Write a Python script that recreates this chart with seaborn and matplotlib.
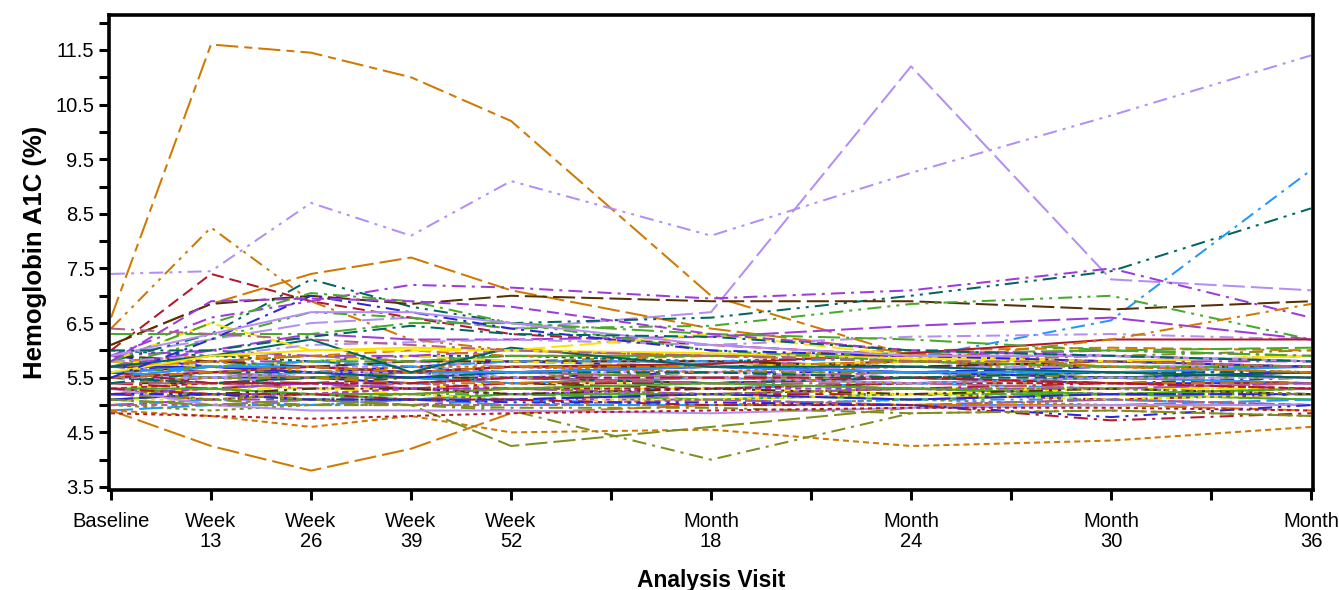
import matplotlib
matplotlib.use("Agg")
import matplotlib.pyplot as plt
import pandas as pd
import seaborn as sns

# visits (months since baseline) and axis labels
visit_months = [0, 3, 6, 9, 12, 18, 24, 30, 36]
tick_months = [0, 3, 6, 9, 12, 15, 18, 21, 24, 27, 30, 33, 36]
tick_labels = ["Baseline", "Week\n13", "Week\n26", "Week\n39", "Week\n52", "",
               "Month\n18", "", "Month\n24", "", "Month\n30", "", "Month\n36"]
y_ticks = [3.5, 4.0, 4.5, 5.0, 5.5, 6.0, 6.5, 7.0, 7.5, 8.0, 8.5, 9.0, 9.5,
           10.0, 10.5, 11.0, 11.5, 12.0]
y_tick_labels = ["3.5", "", "4.5", "", "5.5", "", "6.5", "", "7.5", "", "8.5", "",
                 "9.5", "", "10.5", "", "11.5", ""]

# subjects that move above the main band
high_subjects = [
    [6.6, 11.6, 11.45, 11.0, 10.2, 7.0, 5.9, 5.8, 5.7],
    [5.9, 6.2, 6.5, 6.6, 6.4, 6.7, 11.2, 7.3, 7.1],
    [7.4, 7.45, 8.7, 8.1, 9.1, 8.1, 9.25, 10.3, 11.4],
    [6.4, 8.25, 6.9, 6.2, 6.0, 5.9, 5.8, 5.8, 5.9],
    [6.1, 6.85, 7.4, 7.7, 7.1, 6.4, 5.95, 5.7, 5.6],
    [6.0, 7.4, 6.9, 6.6, 6.3, 6.1, 5.9, 5.9, 5.8],
    [5.8, 6.3, 7.3, 6.8, 6.5, 6.6, 7.0, 7.45, 8.6],
    [5.6, 5.7, 5.8, 5.7, 5.8, 5.8, 5.85, 6.55, 9.3],
    [5.9, 6.6, 6.9, 7.2, 7.15, 6.95, 7.1, 7.5, 6.6],
    [6.1, 6.85, 7.0, 6.85, 7.0, 6.9, 6.9, 6.75, 6.9],
    [5.7, 6.2, 6.7, 6.6, 6.4, 6.45, 6.85, 7.0, 6.2],
    [5.7, 6.0, 6.3, 6.2, 6.2, 6.25, 6.45, 6.6, 6.2],
    [5.8, 5.9, 6.1, 6.15, 6.2, 6.1, 6.25, 6.3, 6.2],
    [5.5, 5.6, 5.7, 5.6, 5.7, 5.75, 5.95, 6.2, 6.2],
    [5.5, 5.6, 5.7, 5.6, 5.7, 5.7, 5.8, 6.2, 6.85],
    [5.7, 5.9, 6.2, 5.6, 6.05, 5.7, 5.7, 5.6, 5.5],
    [5.8, 6.5, 6.0, 6.0, 6.0, 6.3, 5.9, 5.8, 5.9],
    [5.6, 5.9, 6.0, 6.05, 6.0, 5.95, 5.85, 5.8, 5.9],
    [6.3, 6.3, 6.3, 6.5, 6.5, 6.3, 6.2, 6.0, 5.9],
    [5.8, 6.5, 7.05, 6.9, 6.5, 6.0, 5.8, 5.7, 5.7],
    [5.5, 6.2, 7.0, 6.7, 6.4, 6.0, 5.9, 5.8, 5.7],
    [5.8, 6.9, 6.95, 6.9, 6.8, 6.3, 6.0, 5.9, 5.8],
    [5.9, 6.3, 6.7, 6.7, 6.5, 6.1, 5.9, 5.9, 5.8],
    [6.4, 6.3, 6.2, 6.1, 6.0, 5.9, 5.8, 5.8, 5.7],
    [6.0, 6.0, 6.25, 6.45, 6.3, 6.25, 6.0, 5.9, 5.8],
]

# subjects that dip below the main band
low_subjects = [
    [4.9, 4.8, 4.6, 4.8, 4.5, 4.55, 4.25, 4.35, 4.6],
    [4.9, 4.25, 3.8, 4.2, 4.85, 5.0, 5.0, 5.0, 4.9],
    [5.3, 5.2, 5.1, 5.0, 4.25, 4.6, 4.95, 5.0, 5.0],
    [5.2, 5.1, 5.0, 5.0, 4.9, 4.0, 4.85, 4.9, 4.8],
    [5.3, 5.0, 4.9, 4.9, 4.9, 4.85, 4.95, 5.0, 5.0],
    [5.3, 5.2, 5.2, 5.1, 5.1, 5.0, 5.0, 4.72, 4.85],
    [5.2, 5.2, 5.1, 5.1, 5.05, 5.05, 5.0, 4.78, 5.0],
    [5.1, 5.0, 5.0, 5.0, 4.95, 4.95, 4.85, 4.9, 4.8],
    [4.85, 4.8, 4.75, 4.8, 4.85, 4.9, 4.95, 4.95, 4.9],
]

# the dense band of stable subjects
band_subjects = [
    [5.6, 5.5, 5.5, 5.4, 5.5, 5.4, 5.5, 5.4, 5.4],
    [5.2, 5.3, 5.2, 5.3, 5.2, 5.2, 5.3, 5.2, 5.3],
    [5.8, 5.7, 5.8, 5.7, 5.6, 5.7, 5.6, 5.6, 5.5],
    [5.4, 5.4, 5.5, 5.5, 5.4, 5.3, 5.4, 5.5, 5.4],
    [5.0, 5.1, 5.1, 5.0, 5.1, 5.1, 5.0, 5.1, 5.0],
    [5.9, 5.8, 5.9, 5.8, 5.9, 5.9, 5.8, 5.9, 6.0],
    [5.3, 5.2, 5.3, 5.4, 5.3, 5.3, 5.4, 5.3, 5.2],
    [5.5, 5.6, 5.5, 5.6, 5.6, 5.5, 5.6, 5.5, 5.6],
    [5.7, 5.6, 5.7, 5.6, 5.7, 5.6, 5.7, 5.7, 5.6],
    [5.1, 5.2, 5.2, 5.1, 5.2, 5.2, 5.1, 5.2, 5.1],
    [5.6, 5.8, 5.7, 5.7, 5.6, 5.6, 5.5, 5.6, 5.5],
    [5.3, 5.4, 5.3, 5.3, 5.4, 5.4, 5.3, 5.3, 5.3],
    [5.9, 5.7, 5.6, 5.7, 5.8, 5.7, 5.6, 5.7, 5.7],
    [5.2, 5.1, 5.2, 5.2, 5.1, 5.2, 5.2, 5.1, 5.2],
    [5.5, 5.4, 5.4, 5.5, 5.5, 5.6, 5.5, 5.4, 5.5],
    [5.4, 5.5, 5.6, 5.5, 5.5, 5.4, 5.5, 5.6, 5.5],
    [5.7, 5.8, 5.8, 5.9, 5.8, 5.8, 5.7, 5.8, 5.8],
    [5.0, 4.9, 5.0, 5.0, 5.0, 5.0, 5.1, 5.0, 5.0],
    [5.6, 5.5, 5.6, 5.5, 5.4, 5.5, 5.4, 5.5, 5.4],
    [5.3, 5.3, 5.4, 5.4, 5.3, 5.4, 5.5, 5.4, 5.3],
    [5.8, 5.9, 5.9, 5.8, 5.8, 5.9, 5.9, 5.8, 5.9],
    [5.1, 5.0, 5.1, 5.1, 5.2, 5.1, 5.2, 5.2, 5.1],
    [5.5, 5.5, 5.4, 5.4, 5.5, 5.5, 5.6, 5.5, 5.5],
    [5.2, 5.3, 5.3, 5.2, 5.3, 5.3, 5.2, 5.3, 5.3],
    [5.7, 5.6, 5.6, 5.6, 5.5, 5.6, 5.6, 5.6, 5.6],
    [5.4, 5.3, 5.4, 5.3, 5.4, 5.4, 5.3, 5.4, 5.4],
    [6.0, 5.9, 5.8, 5.9, 5.9, 5.8, 5.9, 5.9, 5.8],
    [5.6, 5.7, 5.7, 5.6, 5.7, 5.7, 5.8, 5.7, 5.7],
    [5.3, 5.2, 5.2, 5.3, 5.2, 5.3, 5.3, 5.2, 5.2],
    [5.5, 5.6, 5.5, 5.5, 5.6, 5.5, 5.5, 5.6, 5.5],
    [4.9, 5.0, 5.0, 5.1, 5.0, 5.0, 5.0, 5.0, 5.1],
    [5.8, 5.6, 5.5, 5.6, 5.6, 5.5, 5.6, 5.5, 5.6],
    [5.4, 5.5, 5.5, 5.4, 5.4, 5.5, 5.4, 5.4, 5.4],
    [5.2, 5.2, 5.1, 5.2, 5.2, 5.1, 5.2, 5.2, 5.2],
    [5.6, 5.6, 5.7, 5.8, 5.7, 5.6, 5.7, 5.7, 5.7],
    [5.1, 5.1, 5.2, 5.2, 5.1, 5.1, 5.2, 5.1, 5.2],
    [5.7, 5.7, 5.6, 5.5, 5.6, 5.7, 5.6, 5.5, 5.6],
    [5.3, 5.4, 5.4, 5.3, 5.3, 5.3, 5.4, 5.4, 5.3],
    [5.5, 5.4, 5.5, 5.6, 5.5, 5.4, 5.5, 5.5, 5.6],
    [5.9, 5.8, 5.7, 5.8, 5.8, 5.8, 5.7, 5.8, 5.7],
    [5.2, 5.3, 5.4, 5.3, 5.3, 5.2, 5.3, 5.3, 5.4],
    [5.6, 5.5, 5.5, 5.6, 5.5, 5.6, 5.6, 5.5, 5.5],
    [5.0, 5.1, 5.0, 5.1, 5.1, 5.0, 5.1, 5.1, 5.0],
    [5.4, 5.4, 5.3, 5.4, 5.5, 5.4, 5.4, 5.3, 5.4],
    [5.7, 5.8, 5.6, 5.7, 5.7, 5.6, 5.8, 5.7, 5.6],
    [5.3, 5.3, 5.2, 5.2, 5.3, 5.4, 5.3, 5.2, 5.3],
    [5.5, 5.5, 5.6, 5.6, 5.5, 5.5, 5.4, 5.5, 5.5],
    [5.8, 5.7, 5.8, 5.9, 5.8, 5.7, 5.8, 5.8, 5.9],
    [5.1, 5.2, 5.1, 5.1, 5.1, 5.2, 5.1, 5.2, 5.2],
    [5.6, 5.4, 5.4, 5.4, 5.5, 5.5, 5.5, 5.4, 5.3],
    [5.4, 5.6, 5.6, 5.5, 5.6, 5.6, 5.5, 5.6, 5.6],
    [5.2, 5.2, 5.3, 5.3, 5.2, 5.3, 5.2, 5.3, 5.2],
    [5.9, 6.0, 5.9, 5.9, 6.0, 5.9, 5.9, 6.0, 5.9],
    [5.3, 5.1, 5.2, 5.2, 5.3, 5.2, 5.3, 5.3, 5.2],
    [5.5, 5.7, 5.7, 5.6, 5.6, 5.7, 5.6, 5.6, 5.7],
    [5.0, 5.0, 5.1, 5.0, 5.0, 5.1, 5.0, 5.1, 5.0],
    [5.7, 5.8, 5.9, 6.0, 5.9, 5.9, 6.0, 6.05, 6.0],
    [5.6, 5.7, 5.8, 5.8, 5.9, 5.9, 5.95, 6.0, 6.05],
]

# SAS HTMLBlue group colours and line patterns
sas_colors = {"blue": "#2A25D9", "red": "#B2182B", "teal": "#01665E",
              "brown": "#543005", "purple": "#9D3CDB", "olive": "#7F8E1F",
              "lblue": "#2597FA", "pink": "#B26084", "orange": "#D17800",
              "green": "#47A82A", "lav": "#B38EF3", "yellow": "#F9E500"}
patterns = {"solid": "", "short": (3, 2), "medium": (6, 3), "long": (11, 3),
            "longshort": (11, 3, 4, 3), "dashdot": (7, 3, 1.5, 3),
            "dashdotdot": (7, 3, 1.5, 3, 1.5, 3), "longdashdot": (11, 3, 1.5, 3),
            "dot": (2, 2)}

high_styles = [("orange", "longshort"), ("lav", "long"), ("lav", "dashdotdot"),
               ("orange", "dashdotdot"), ("orange", "long"), ("red", "medium"),
               ("teal", "dashdotdot"), ("lblue", "dashdot"), ("purple", "dashdot"),
               ("brown", "long"), ("green", "dashdotdot"), ("purple", "long"),
               ("lav", "dashdot"), ("red", "solid"), ("orange", "dashdot"),
               ("teal", "solid"), ("yellow", "long"), ("yellow", "solid"),
               ("green", "longdashdot"), ("green", "dashdot"), ("blue", "dashdot"),
               ("purple", "medium"), ("lav", "solid"), ("pink", "dashdot"),
               ("teal", "dashdot")]
low_styles = [("orange", "short"), ("orange", "long"), ("olive", "long"),
              ("olive", "dashdot"), ("lav", "solid"), ("red", "dashdot"),
              ("blue", "dashdotdot"), ("olive", "dashdot"), ("red", "dot")]
color_cycle = list(sas_colors)
pattern_cycle = list(patterns)

rows = []
palette = {}
dashes = {}
groups = [(band_subjects, None), (low_subjects, low_styles), (high_subjects, high_styles)]
n = 0
for values_list, styles in groups:
    for i, values in enumerate(values_list):
        sid = f"S{n:03d}"
        if styles is None:
            cname = color_cycle[n % 12]
            pname = pattern_cycle[n % 9]
        else:
            cname, pname = styles[i]
        palette[sid] = sas_colors[cname]
        dashes[sid] = patterns[pname]
        for m, v in zip(visit_months, values):
            rows.append({"subject": sid, "month": m, "a1c": v})
        n += 1
df = pd.DataFrame(rows)

sns.set_style("ticks")
plt.rcParams["font.family"] = ["Liberation Sans", "DejaVu Sans"]
plt.rcParams["text.color"] = "black"
plt.rcParams["axes.labelcolor"] = "black"
plt.rcParams["xtick.color"] = "black"
plt.rcParams["ytick.color"] = "black"

fig = plt.figure(figsize=(13.39, 5.9), dpi=100)
ax = fig.add_axes([0.0814, 0.1695, 0.8992, 0.8051])

sns.lineplot(data=df, x="month", y="a1c", hue="subject", style="subject",
             palette=palette, dashes=dashes, estimator=None, errorbar=None,
             linewidth=1.45, legend=False, ax=ax)

ax.set_xlim(-0.06, 36.06)
ax.set_ylim(3.445, 12.14)
ax.set_xticks(tick_months)
ax.set_xticklabels(tick_labels, fontsize=14.5, linespacing=1.1)
ax.set_yticks(y_ticks)
ax.set_yticklabels(y_tick_labels, fontsize=14.5)
ax.tick_params(axis="both", direction="out", length=7.5, width=2.2,
               colors="black", pad=3)
ax.tick_params(axis="x", pad=8)

ax.set_xlabel("Analysis Visit", fontsize=16.5, fontweight="bold", labelpad=13)
ax.set_ylabel("Hemoglobin A1C (%)", fontsize=18.5, fontweight="bold", labelpad=6)

for spine in ax.spines.values():
    spine.set_visible(True)
    spine.set_linewidth(2.6)
    spine.set_color("black")
ax.grid(False)

fig.savefig("out.png", dpi=100)
